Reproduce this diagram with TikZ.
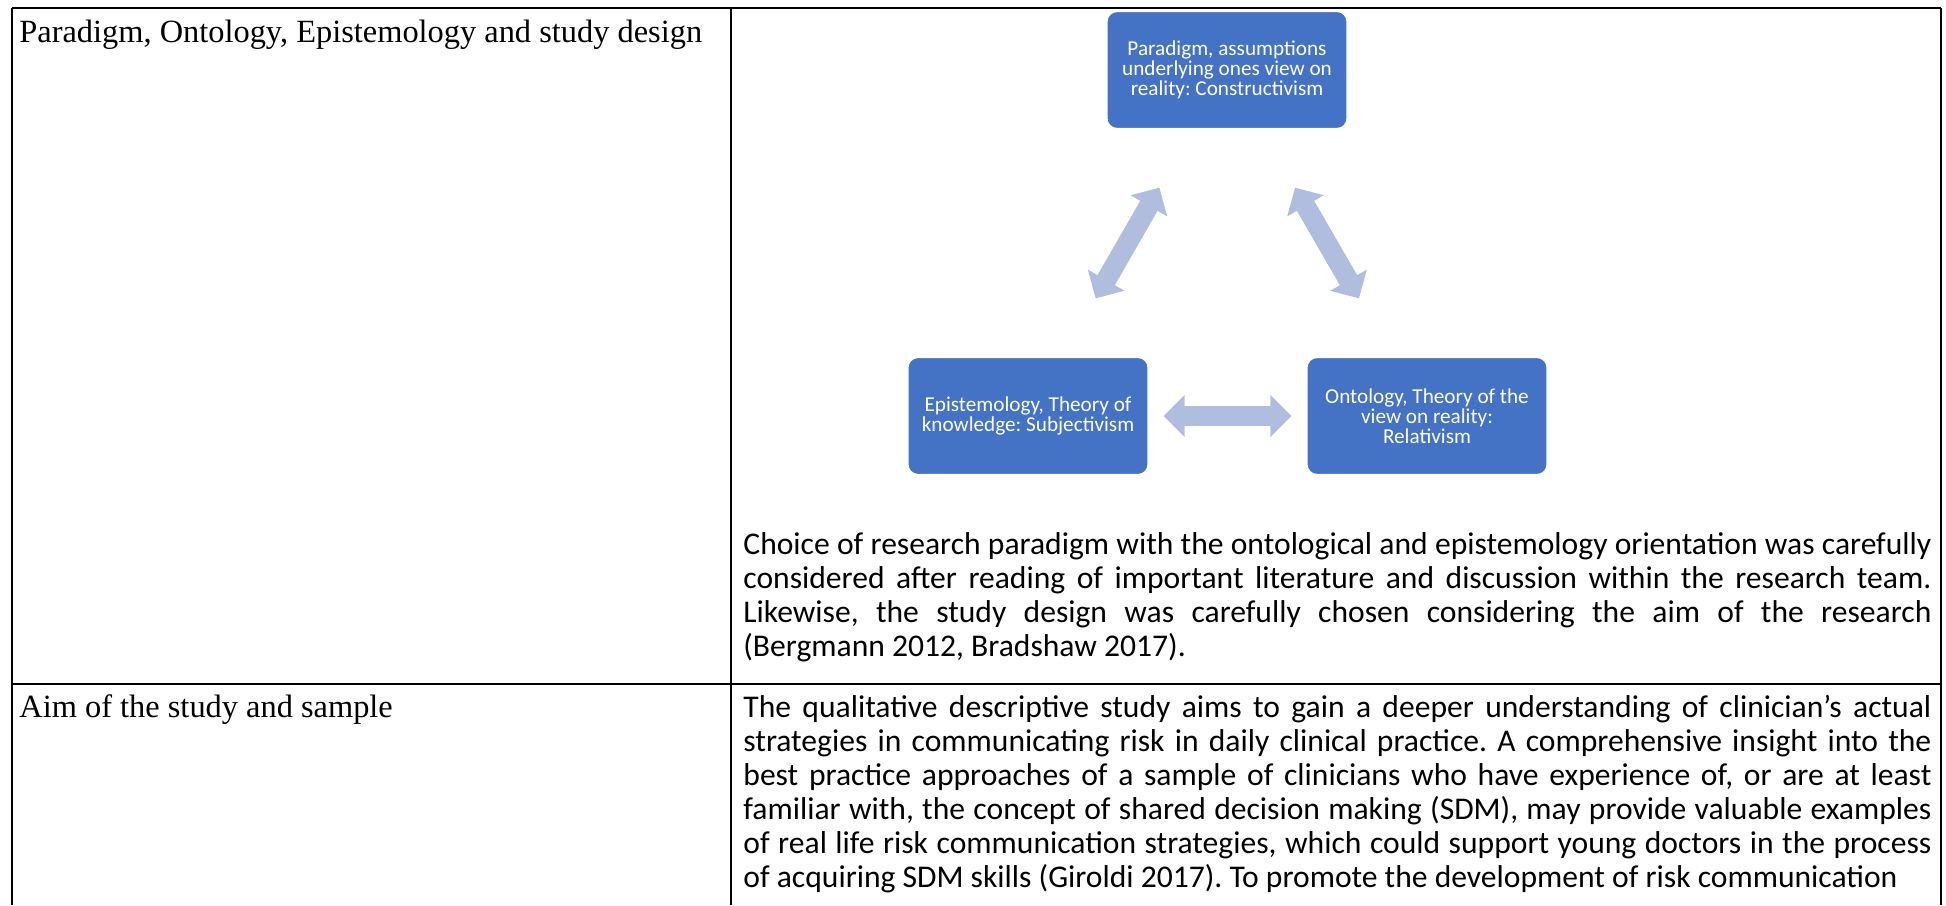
\documentclass[tikz,border=0pt]{standalone}
\usepackage{fontspec}
\usetikzlibrary{arrows.meta,calc}

\newfontfamily\cellfont{Liberation Serif}
\newfontfamily\bodyfont{Carlito}
\frenchspacing

\definecolor{boxblue}{HTML}{4472C4}
\definecolor{arrowblue}{HTML}{B0BDDF}

\tikzset{
  cellhead/.style={anchor=base west, inner sep=0pt, font=\cellfont\fontsize{16.2}{18}\selectfont},
  celltext/.style={anchor=base west, inner sep=0pt, text width=594pt, align=justify, font=\bodyfont\fontsize{15.8}{17}\selectfont},
  cyclebox/.style={rectangle, rounded corners=5pt, fill=boxblue, draw=white, line width=0.6pt, minimum width=120pt, minimum height=58.5pt, text=white, align=center, font=\bodyfont\fontsize{10.6}{10}\selectfont},
  cyclearrow/.style={draw=arrowblue, line width=10pt, {Triangle[length=10.5pt,width=20.5pt]}-{Triangle[length=10.5pt,width=20.5pt]}}
}

\begin{document}
\begin{tikzpicture}[x=0.5pt, y=-0.5pt]

\useasboundingbox (0,0) rectangle (1946,905);

\draw[line width=1pt] (12,8) -- (1941,8);

\draw[line width=1pt] (12,8) -- (12,905);

\draw[line width=1pt] (1941,8) -- (1941,905);

\draw[line width=1pt] (731,8) -- (731,905);

\draw[line width=1pt] (12,684) -- (1941,684);

\node[cellhead] (design) at (19,42) {Paradigm, Ontology, Epistemology and study design};

\node[cellhead] (aim) at (19,717) {Aim of the study and sample};

\node[cyclebox] (para) at (1227,70) {Paradigm, assumptions\\underlying ones view on\\reality: Constructivism};

\node[cyclebox] (epi) at (1028,416) {Epistemology, Theory of\\knowledge: Subjectivism};

\node[cyclebox] (onto) at (1427,416) {Ontology, Theory of the\\view on reality:\\Relativism};

\draw[cyclearrow] ($(para)!0.34!(epi)$) -- ($(para)!0.66!(epi)$);

\draw[cyclearrow] ($(para)!0.34!(onto)$) -- ($(para)!0.66!(onto)$);

\draw[cyclearrow] ($(epi)!0.34!(onto)$) -- ($(epi)!0.66!(onto)$);

\node[celltext] (choice) at (743,554) {Choice of research paradigm with the ontological and epistemology orientation was carefully\linebreak considered after reading of important literature and discussion within the research team.\linebreak Likewise, the study design was carefully chosen considering the aim of the research\linebreak (Bergmann 2012, Bradshaw 2017).};

\node[celltext] (sample) at (743,717) {The qualitative descriptive study aims to gain a deeper understanding of clinician’s actual\linebreak strategies in communicating risk in daily clinical practice. A comprehensive insight into the\linebreak best practice approaches of a sample of clinicians who have experience of, or are at least\linebreak familiar with, the concept of shared decision making (SDM), may provide valuable examples\linebreak of real life risk communication strategies, which could support young doctors in the process\linebreak of acquiring SDM skills (Giroldi 2017). To promote the development of risk communication};

\end{tikzpicture}
\end{document}
